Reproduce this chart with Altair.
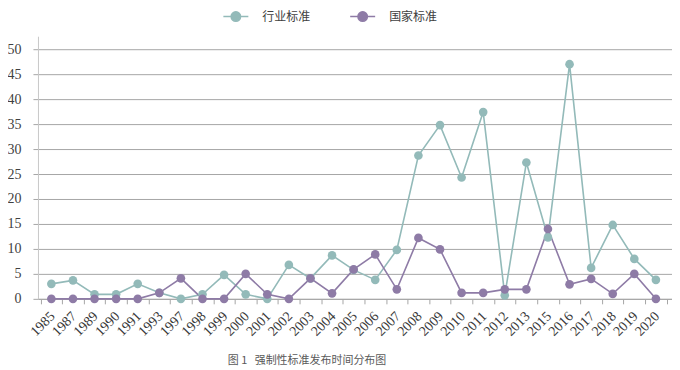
import altair as alt
import pandas as pd

years = ["1985", "1987", "1989", "1990", "1991", "1993", "1997", "1998", "1999", "2000",
         "2001", "2002", "2003", "2004", "2005", "2006", "2007", "2008", "2009", "2010",
         "2011", "2012", "2013", "2015", "2016", "2017", "2018", "2019", "2020"]
industry = [3.0, 3.7, 0.9, 0.9, 3.0, 1.2, 0.0, 0.9, 4.8, 0.9,
            0.0, 6.8, 4.1, 8.7, 5.8, 3.8, 9.8, 28.7, 34.8, 24.3,
            37.4, 0.7, 27.3, 12.3, 47.0, 6.2, 14.8, 8.0, 3.8]
national = [0.0, 0.0, 0.0, 0.0, 0.0, 1.2, 4.1, 0.0, 0.0, 5.0,
            0.9, 0.0, 4.1, 1.1, 5.9, 8.9, 1.9, 12.2, 9.9, 1.2,
            1.2, 1.9, 1.9, 14.0, 2.9, 4.0, 1.0, 5.0, 0.0]
series_names = ["行业标准", "国家标准"]
series_colors = ["#93bab9", "#8e7ba6"]
y_ticks = [0, 5, 10, 15, 20, 25, 30, 35, 40, 45, 50]
caption = "图\u00a01\u00a0\u00a0\u00a0强制性标准发布时间分布图"

rows = []
for name, vals in zip(series_names, [industry, national]):
    for i, (yr, v) in enumerate(zip(years, vals)):
        rows.append({"year": yr, "value": v, "series": name, "idx": i})
df = pd.DataFrame(rows)

serif = "Liberation Serif"
cjk = "Noto Sans CJK SC"

x_enc = alt.X(
    "year:O", sort=years,
    scale=alt.Scale(type="band", paddingInner=0, paddingOuter=0.183, align=0.33),
    axis=alt.Axis(title=None, labelAngle=-45, labelFont=serif, labelFontSize=14,
                  labelColor="#3a3a3a", tickBand="extent", ticks=True, tickColor="#a6a6a6",
                  tickSize=5, domainColor="#a6a6a6", labelPadding=5, labelOffset=-4,
                  grid=False),
)
y_enc = alt.Y(
    "value:Q", scale=alt.Scale(domain=[0, 52.6], nice=False, zero=True),
    axis=alt.Axis(title=None, values=y_ticks, grid=True, gridColor="#a6a6a6",
                  domainColor="#c8c8c8", tickColor="#a6a6a6", tickSize=5,
                  labelPadding=12, labelFont=serif, labelFontSize=14, labelColor="#404040"),
)
legend_symbol = "M-1,0H1M0.376,0A0.376,0.376,0,1,1,-0.376,0A0.376,0.376,0,1,1,0.376,0"
color_enc = alt.Color(
    "series:N", sort=series_names,
    scale=alt.Scale(domain=series_names, range=series_colors),
    legend=alt.Legend(orient="none", legendX=184.7, legendY=-33.5, direction="horizontal",
                      title=None, symbolType=legend_symbol, symbolSize=625,
                      symbolStrokeWidth=1.6, labelFont=cjk, labelFontSize=12,
                      labelColor="#404040", labelOffset=13, columnPadding=35, padding=0),
)

base = alt.Chart(df)
lines = base.mark_line(strokeWidth=1.6).encode(x=x_enc, y=y_enc, color=color_enc)
points = base.mark_circle(size=75, opacity=1).encode(x=x_enc, y=y_enc, color=color_enc)

chart = alt.layer(lines, points).properties(
    width=635, height=263,
    autosize=alt.AutoSizeParams(type="none"),
    padding={"left": 30, "top": 28, "right": 0, "bottom": 71},
    title=alt.TitleParams(text=caption, orient="bottom", anchor="middle", font=cjk,
                          fontSize=11, fontWeight="normal", color="#595959", dx=-48, offset=17),
).configure_view(stroke=None)

chart.save("out.html", embed_options={"renderer": "svg", "actions": False})
